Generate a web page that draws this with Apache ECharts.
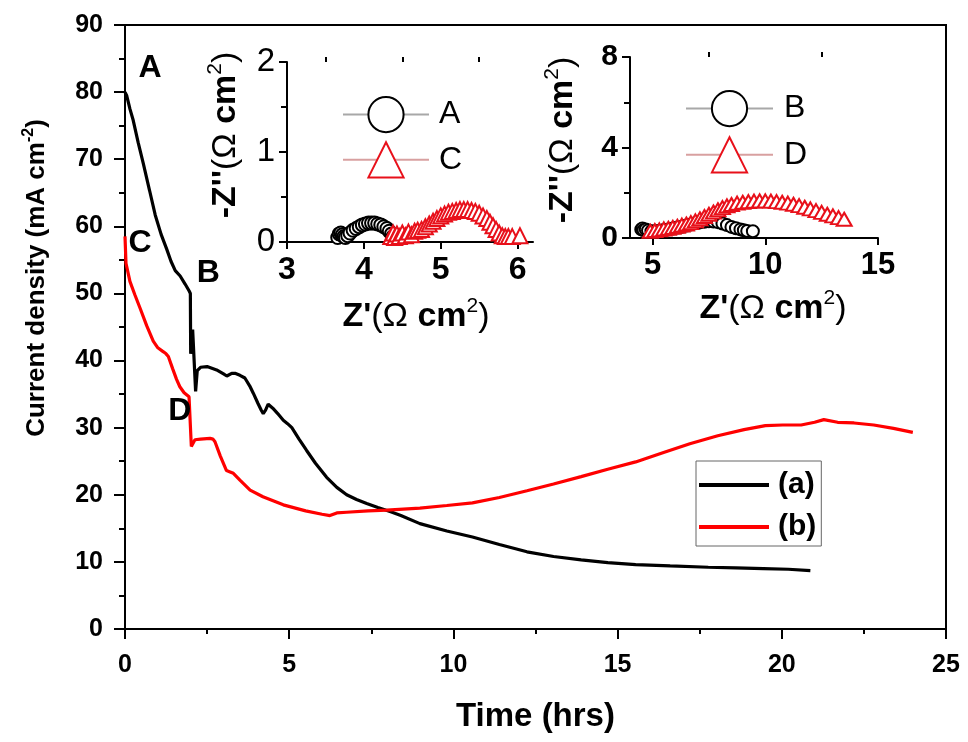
<!DOCTYPE html>
<html><head><meta charset="utf-8">
<script src="https://cdn.jsdelivr.net/npm/echarts@6/dist/echarts.min.js"></script>
<style>html,body{margin:0;padding:0;background:#fff}#c{width:968px;height:742px}</style>
</head><body><div id="c"></div>
<script>
const FONT = 'Liberation Sans, Arial, Helvetica, sans-serif';

// ---- main chart: current density vs time ----
const curveA = [[0,80],[0.05,79.5],[0.15,77.5],[0.25,75.8],[0.4,72.5],[0.56,69.3],[0.75,65.3],[0.92,61.7],[1.1,58.8],[1.27,56.6],[1.4,54.8],[1.53,53.4],[1.68,52.6],[1.83,51.4],[1.95,50.4],[1.99,50.0],[2.0,41.0],[2.03,41.2],[2.06,44.6],[2.12,44.6],[2.15,35.4],[2.2,38.5],[2.3,39.0],[2.5,39.1],[2.79,38.6],[3.0,38.0],[3.1,37.7],[3.25,38.1],[3.35,38.1],[3.5,37.8],[3.65,37.4],[3.8,36.2],[3.91,35.1],[4.05,33.6],[4.15,32.6],[4.21,32.1],[4.28,32.6],[4.36,33.5],[4.5,32.9],[4.65,32.1],[4.82,31.1],[4.95,30.6],[5.08,30.0],[5.3,28.3],[5.53,26.6],[5.8,24.7],[6.14,22.6],[6.45,21.1],[6.75,20.0],[7.05,19.3],[7.36,18.7],[7.7,18.1],[8.07,17.5],[8.4,16.9],[8.98,15.7],[9.8,14.6],[10.58,13.7],[11.4,12.6],[12.24,11.5],[13.05,10.8],[13.89,10.3],[14.7,9.9],[15.55,9.6],[16.6,9.4],[17.76,9.2],[18.6,9.1],[19.44,9.0],[20.2,8.9],[20.87,8.7]];
const curveB = [[0,58.5],[0.03,54.5],[0.15,51.8],[0.3,49.8],[0.46,47.8],[0.66,45.2],[0.86,42.9],[1.0,41.9],[1.17,41.3],[1.25,41.0],[1.32,40.6],[1.45,38.8],[1.57,37.2],[1.67,36.1],[1.8,35.2],[1.95,34.6],[2.0,34.4],[2.02,27.2],[2.13,28.2],[2.3,28.3],[2.59,28.4],[2.68,28.3],[2.74,27.9],[2.9,25.8],[3.09,23.6],[3.2,23.4],[3.3,23.2],[3.5,22.2],[3.81,20.7],[4.2,19.7],[4.82,18.5],[5.5,17.6],[6.0,17.1],[6.24,16.9],[6.45,17.3],[6.75,17.4],[7.4,17.6],[7.97,17.7],[8.98,18.0],[9.8,18.4],[10.58,18.8],[11.4,19.6],[12.24,20.6],[13.05,21.6],[13.89,22.7],[14.7,23.8],[15.55,24.9],[16.4,26.3],[17.2,27.6],[18.05,28.8],[18.85,29.7],[19.5,30.3],[20.03,30.4],[20.59,30.4],[21.0,30.8],[21.28,31.2],[21.7,30.8],[22.2,30.7],[22.8,30.4],[23.4,29.9],[23.99,29.3]];
const seriesNames = ['(a)', '(b)'];
const annotations = [[0.76,83.6,'A'],[2.54,53.0,'B'],[0.46,57.5,'C'],[1.67,32.4,'D']];

// ---- inset 1: Nyquist A & C ----
const nyqA = [[3.66,0.05],[3.68,0.09],[3.7,0.1],[3.72,0.08],[3.74,0.06],[3.76,0.05],[3.79,0.07],[3.82,0.1],[3.86,0.13],[3.9,0.15],[3.94,0.17],[3.98,0.19],[4.02,0.2],[4.06,0.21],[4.1,0.21],[4.14,0.21],[4.18,0.2],[4.22,0.19],[4.26,0.17],[4.3,0.15],[4.33,0.12],[4.36,0.09],[4.38,0.06]];
const nyqC = [[4.35,0.06],[4.38,0.1],[4.4,0.05],[4.43,0.09],[4.46,0.06],[4.5,0.1],[4.54,0.07],[4.58,0.11],[4.62,0.08],[4.66,0.12],[4.7,0.13],[4.75,0.14],[4.8,0.17],[4.85,0.2],[4.9,0.23],[4.95,0.26],[5.0,0.29],[5.05,0.31],[5.1,0.33],[5.15,0.34],[5.2,0.35],[5.25,0.36],[5.3,0.36],[5.35,0.36],[5.4,0.35],[5.45,0.34],[5.5,0.32],[5.55,0.29],[5.6,0.26],[5.64,0.22],[5.68,0.18],[5.72,0.14],[5.76,0.1],[5.8,0.07],[5.84,0.06],[5.88,0.06],[5.93,0.06],[6.03,0.07]];
const inset1XTicks = [3,4,5,6];
const inset1XMinor = [3.5,4.5,5.5];

// ---- inset 2: Nyquist B & D ----
const nyqB = [[4.5,0.38],[4.55,0.42],[4.6,0.35],[4.7,0.38],[4.8,0.33],[4.95,0.3],[5.1,0.3],[5.3,0.32],[5.5,0.35],[5.7,0.38],[5.9,0.42],[6.1,0.46],[6.3,0.5],[6.5,0.55],[6.7,0.6],[6.9,0.65],[7.1,0.69],[7.3,0.72],[7.5,0.74],[7.7,0.73],[7.9,0.7],[8.1,0.64],[8.3,0.57],[8.5,0.49],[8.7,0.43],[8.9,0.38],[9.05,0.34],[9.2,0.31],[9.45,0.3]];
const nyqD = [[4.9,0.3],[5.1,0.33],[5.3,0.36],[5.5,0.4],[5.7,0.43],[5.9,0.47],[6.1,0.52],[6.3,0.57],[6.5,0.62],[6.7,0.68],[6.9,0.76],[7.1,0.85],[7.3,0.95],[7.5,1.05],[7.7,1.15],[7.9,1.25],[8.1,1.34],[8.3,1.42],[8.5,1.48],[8.75,1.54],[9.0,1.58],[9.25,1.61],[9.5,1.63],[9.75,1.64],[10.0,1.64],[10.25,1.63],[10.5,1.61],[10.75,1.58],[11.0,1.54],[11.25,1.49],[11.5,1.43],[11.75,1.36],[12.0,1.29],[12.25,1.21],[12.5,1.13],[12.75,1.05],[13.0,0.98],[13.25,0.9],[13.5,0.83]];
const inset2XTicks = [5,10,15];
const inset2XMinor = [7.5,12.5];

const axLine = {lineStyle:{color:'#000', width:2}};
const tickStyle = {color:'#000', width:2};
const zRich = {
  b:{fontSize:34, fontWeight:'bold', fontFamily:FONT, color:'#000'},
  r:{fontSize:34, fontWeight:'normal', fontFamily:FONT, color:'#000'},
  s:{fontSize:21, fontWeight:'normal', fontFamily:FONT, color:'#000', padding:[0,0,20,0]}
};

const chart = echarts.init(document.getElementById('c'), null, {renderer:'canvas'});
chart.setOption({
  animation:false,
  backgroundColor:'#fff',
  textStyle:{fontFamily:FONT},
  grid:[
    {left:125, top:25, width:821, height:604, show:true, borderColor:'#000', borderWidth:2, backgroundColor:'transparent'},
    {left:287, top:62, width:246, height:180},
    {left:630, top:57, width:248, height:181}
  ],
  xAxis:[
    {gridIndex:0, type:'value', min:0, max:25, interval:5,
     axisLine:axLine, axisTick:{length:10, lineStyle:tickStyle},
     minorTick:{show:true, splitNumber:2, length:5, lineStyle:tickStyle},
     splitLine:{show:false},
     axisLabel:{fontSize:25, fontWeight:'bold', color:'#000', margin:24, fontFamily:FONT},
     name:'Time (hrs)', nameLocation:'middle', nameGap:71,
     nameTextStyle:{fontSize:33, fontWeight:'bold', color:'#000', fontFamily:FONT}},
    {gridIndex:1, type:'value', min:3, max:6.2,
     axisLine:axLine, axisTick:{length:7, customValues:inset1XTicks, lineStyle:tickStyle},
     splitLine:{show:false},
     axisLabel:{customValues:inset1XTicks, fontSize:32, fontWeight:'bold', color:'#000', margin:12, fontFamily:FONT},
     name:"{b|Z'}{r|(Ω }{b|cm}{s|2}{r|)}", nameLocation:'middle', nameGap:54,
     nameTextStyle:{rich:zRich, padding:[0,0,0,12]}},
    {gridIndex:1, type:'value', min:3, max:6.2, axisLine:{show:false},
     axisTick:{length:5, customValues:inset1XMinor, lineStyle:tickStyle},
     axisLabel:{show:false}, splitLine:{show:false}},
    {gridIndex:2, type:'value', min:4, max:15,
     axisLine:axLine, axisTick:{length:7, customValues:inset2XTicks, lineStyle:tickStyle},
     splitLine:{show:false},
     axisLabel:{customValues:inset2XTicks, fontSize:31, fontWeight:'bold', color:'#000', margin:12, fontFamily:FONT},
     name:"{b|Z'}{r|(Ω }{b|cm}{s|2}{r|)}", nameLocation:'middle', nameGap:50,
     nameTextStyle:{rich:zRich, padding:[0,0,0,38]}},
    {gridIndex:2, type:'value', min:4, max:15, axisLine:{show:false},
     axisTick:{length:5, customValues:inset2XMinor, lineStyle:tickStyle},
     axisLabel:{show:false}, splitLine:{show:false}}
  ],
  yAxis:[
    {gridIndex:0, type:'value', min:0, max:90, interval:10,
     axisLine:axLine, axisTick:{length:11, lineStyle:tickStyle},
     minorTick:{show:true, splitNumber:2, length:6, lineStyle:tickStyle},
     splitLine:{show:false},
     axisLabel:{fontSize:25, fontWeight:'bold', color:'#000', margin:22, fontFamily:FONT},
     name:'{b|Current density (mA cm}{s|-2}{b|)}', nameLocation:'middle', nameGap:72,
     nameTextStyle:{padding:[0,0,0,98], rich:{
       b:{fontSize:26, fontWeight:'bold', fontFamily:FONT, color:'#000'},
       s:{fontSize:16, fontWeight:'bold', fontFamily:FONT, color:'#000', padding:[0,0,16,0]}}}},
    {gridIndex:1, type:'value', min:0, max:2, interval:1,
     axisLine:axLine, axisTick:{length:8, lineStyle:tickStyle},
     minorTick:{show:true, splitNumber:2, length:6, lineStyle:tickStyle},
     splitLine:{show:false},
     axisLabel:{fontSize:33, fontWeight:'normal', color:'#000', margin:12, fontFamily:FONT},
     name:"{b|-Z''}{r|(Ω }{b|cm}{s|2}{r|)}", nameLocation:'middle', nameGap:41,
     nameTextStyle:{rich:zRich, padding:[0,0,0,34]}},
    {gridIndex:2, type:'value', min:0, max:8, interval:4,
     axisLine:axLine, axisTick:{length:8, lineStyle:tickStyle},
     minorTick:{show:true, splitNumber:2, length:6, lineStyle:tickStyle},
     splitLine:{show:false},
     axisLabel:{fontSize:30, fontWeight:'bold', color:'#000', margin:12, fontFamily:FONT},
     name:"{b|-Z''}{r|(Ω }{b|cm}{s|2}{r|)}", nameLocation:'middle', nameGap:47,
     nameTextStyle:{rich:zRich, padding:[0,0,0,15]}}
  ],
  legend:[
    {data:seriesNames, orient:'vertical', left:696, top:461, icon:'rect',
     itemWidth:70, itemHeight:4, itemGap:12, padding:[9,5,4,3],
     borderColor:'#666', borderWidth:1,
     textStyle:{fontSize:30, fontWeight:'bold', color:'#000', lineHeight:30, fontFamily:FONT, padding:[0,0,0,4]}},
    {data:['A','C'], orient:'vertical', left:342, top:96, itemWidth:86, itemHeight:44, itemGap:8, padding:0,
     lineStyle:{opacity:1},
     textStyle:{fontSize:32, color:'#000', fontFamily:FONT, padding:[0,0,0,5]}},
    {data:['B','D'], orient:'vertical', left:685, top:90, itemWidth:87, itemHeight:44, itemGap:9, padding:0,
     lineStyle:{opacity:1},
     textStyle:{fontSize:32, color:'#000', fontFamily:FONT, padding:[0,0,0,6]}}
  ],
  series:[
    {name:seriesNames[0], type:'line', xAxisIndex:0, yAxisIndex:0, data:curveA, showSymbol:false, symbol:'none',
     lineStyle:{color:'#000', width:3.2}, itemStyle:{color:'#000'}},
    {name:seriesNames[1], type:'line', xAxisIndex:0, yAxisIndex:0, data:curveB, showSymbol:false, symbol:'none',
     lineStyle:{color:'#ff0000', width:3.2}, itemStyle:{color:'#ff0000'}},
    {name:'A', type:'line', xAxisIndex:1, yAxisIndex:1, data:nyqA, symbol:'emptyCircle', symbolSize:13,
     itemStyle:{color:'#000', borderWidth:1.2}, lineStyle:{color:'#a8a8a8', width:1, opacity:0}},
    {name:'C', type:'line', xAxisIndex:1, yAxisIndex:1, data:nyqC, symbol:'emptyTriangle', symbolSize:15,
     itemStyle:{color:'#e8101a', borderWidth:1.2}, lineStyle:{color:'#d8a0a0', width:1, opacity:0}},
    {name:'B', type:'line', xAxisIndex:3, yAxisIndex:2, data:nyqB, symbol:'emptyCircle', symbolSize:12,
     itemStyle:{color:'#000', borderWidth:1.2}, lineStyle:{color:'#a8a8a8', width:1, opacity:0}},
    {name:'D', type:'line', xAxisIndex:3, yAxisIndex:2, data:nyqD, symbol:'emptyTriangle', symbolSize:[15,13],
     itemStyle:{color:'#e8101a', borderWidth:1.2}, lineStyle:{color:'#d8a0a0', width:1, opacity:0}}
  ]
});

// point labels A–D placed through the main grid's scales
chart.setOption({
  graphic: annotations.map(a => {
    const p = chart.convertToPixel({gridIndex:0}, [a[0], a[1]]);
    return {type:'text', x:p[0], y:p[1], z:100,
      style:{text:a[2], fill:'#000', font:'bold 32px ' + FONT, align:'center', verticalAlign:'middle'}};
  })
});
</script></body></html>
